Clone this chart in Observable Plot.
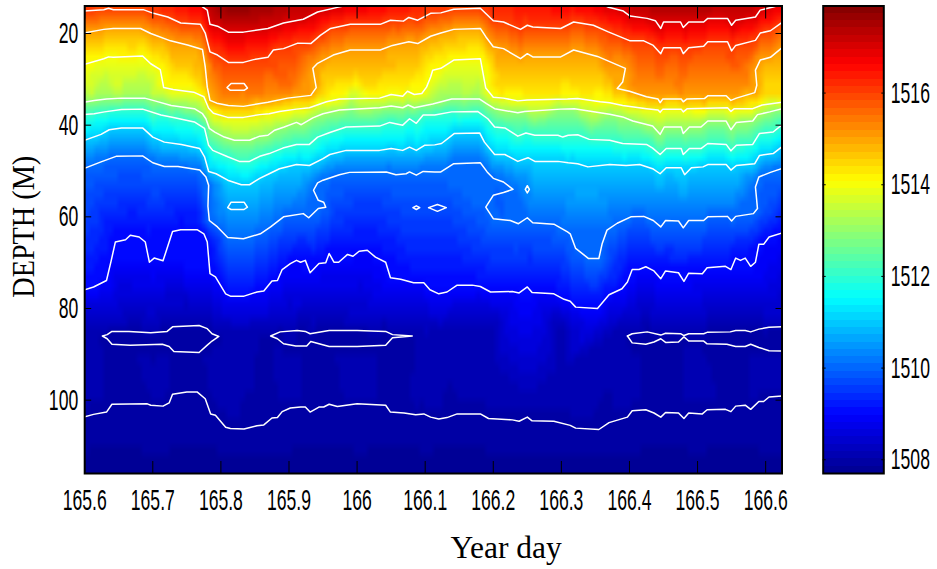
<!DOCTYPE html>
<html><head><meta charset="utf-8">
<script src="https://cdn.jsdelivr.net/npm/d3@7"></script>
<script src="https://cdn.jsdelivr.net/npm/@observablehq/plot@0.6"></script>
<style>
html,body{margin:0;padding:0;background:#fff}
#wrap{position:relative;width:937px;height:569px;overflow:hidden}
#wrap svg{position:absolute;left:0;top:0}
</style></head><body><div id="wrap"></div>
<script>
// Tick labels
const xTicks=[165.6,165.7,165.8,165.9,166,166.1,166.2,166.3,166.4,166.5,166.6];
const yTicks=[20,40,60,80,100];
const barTicks=[1508,1510,1512,1514,1516];
// Contours: [year day, depth]
const c1517a=[[165.773,14.2],[165.780,14.9],[165.784,18],[165.795,18.4],[165.811,19.7],[165.833,19.7],[165.869,18.9],[165.892,17.7],[165.921,16.9],[165.942,15.3],[165.971,14.3],[165.980,14],[165.990,13.6]];
const c1517b=[[166.357,13.6],[166.368,14.2],[166.391,15.1],[166.401,16.2],[166.426,16.7],[166.438,17.2],[166.446,18.9],[166.450,17.5],[166.475,17.5],[166.479,18.7],[166.487,17.5],[166.509,17.5],[166.515,16.7],[166.544,16.7],[166.550,18.2],[166.556,17.1],[166.585,16.4],[166.592,14.9],[166.603,14.5],[166.611,14.2],[166.625,13.6]];
const c1516=[[165.598,15.1],[165.628,14.8],[165.635,14.5],[165.642,14.8],[165.686,14.8],[165.701,15.6],[165.722,16.4],[165.741,17.7],[165.770,18],[165.777,19.9],[165.784,24],[165.795,24.7],[165.811,26.3],[165.833,26.3],[165.848,25.7],[165.869,25.2],[165.877,23.6],[165.892,23.3],[165.913,22.1],[165.932,22.2],[165.946,20.4],[165.961,18.9],[165.990,18],[166.034,18],[166.049,17.1],[166.068,17.3],[166.076,16.5],[166.089,17.1],[166.108,15.6],[166.123,15.5],[166.142,14.7],[166.181,14.5],[166.200,17.2],[166.215,17.5],[166.240,19.1],[166.250,18.2],[166.258,18.6],[166.299,18.9],[166.318,17.5],[166.347,18.2],[166.368,19.6],[166.401,21.6],[166.421,21.6],[166.435,22.6],[166.446,24.4],[166.450,23.1],[166.475,23.1],[166.479,24.4],[166.487,23.1],[166.509,22.8],[166.515,21.8],[166.544,21.8],[166.550,23.8],[166.556,22.6],[166.585,21.5],[166.592,19.9],[166.607,19.4],[166.625,17.5]];
const c1515=[[165.598,19.9],[165.628,19.1],[165.642,18.9],[165.682,18.9],[165.697,20],[165.726,21.6],[165.751,22.5],[165.773,23.5],[165.777,27.3],[165.780,31.7],[165.784,34.6],[165.794,35.2],[165.811,35.7],[165.833,35.9],[165.869,35],[165.898,34.1],[165.932,33.5],[165.940,31.8],[165.935,27.6],[165.942,26.5],[165.965,24.7],[165.990,23.6],[166.034,23.6],[166.052,22.6],[166.076,21.8],[166.089,22.2],[166.108,20.6],[166.123,19.9],[166.142,19.1],[166.181,18.9],[166.189,20.7],[166.200,22.9],[166.215,23.3],[166.240,25.5],[166.250,24.4],[166.258,25.1],[166.299,25.1],[166.318,23.6],[166.353,25],[166.394,27.6],[166.390,30.6],[166.382,32],[166.400,32.6],[166.425,33.8],[166.442,34.3],[166.445,35.1],[166.449,34.3],[166.476,34.3],[166.479,34.9],[166.484,34.3],[166.510,34.2],[166.515,33.6],[166.542,33.6],[166.549,34.6],[166.557,34.1],[166.584,32.9],[166.587,31.3],[166.585,28],[166.592,25.8],[166.607,25.2],[166.625,23]];
const c1514=[[165.598,26.8],[165.628,25.5],[165.635,25.1],[165.642,25.2],[165.685,24.9],[165.697,26.6],[165.711,27.9],[165.716,31.8],[165.730,32.2],[165.760,32.8],[165.775,33.8],[165.782,36.3],[165.789,37.4],[165.810,38.3],[165.833,38.3],[165.857,37.7],[165.871,37.5],[165.886,37],[165.911,36.5],[165.930,36.2],[165.955,34.9],[165.974,34.3],[166.033,34.1],[166.050,33.3],[166.067,33.7],[166.074,32.6],[166.084,33.3],[166.095,33.1],[166.102,31.7],[166.108,29.5],[166.111,28],[166.123,27.6],[166.142,25.8],[166.181,25.5],[166.189,31.9],[166.200,33.9],[166.215,34.1],[166.236,34.7],[166.250,34.5],[166.309,34.3],[166.324,34.2],[166.357,34.9],[166.371,35.1],[166.390,35.7],[166.425,36.4],[166.442,36.7],[166.445,37.2],[166.449,36.5],[166.476,36.5],[166.479,37.1],[166.485,36.4],[166.544,36.2],[166.549,37],[166.554,36.4],[166.581,36.4],[166.595,35.6],[166.625,35]];
const c1513=[[165.598,35],[165.614,34.6],[165.632,34.3],[165.654,34.1],[165.688,34.1],[165.703,34.7],[165.727,35.7],[165.761,36.4],[165.773,37.5],[165.778,38.6],[165.783,40.7],[165.791,41.5],[165.805,42.6],[165.820,43.3],[165.842,43.3],[165.857,42.4],[165.869,42.2],[165.879,41.1],[165.893,40.4],[165.911,39.4],[165.918,39.9],[165.935,38.4],[165.950,37.5],[165.974,36.7],[166.033,36.2],[166.050,35.8],[166.067,36.2],[166.075,35.6],[166.084,36.2],[166.111,35.4],[166.139,34.3],[166.180,34.3],[166.190,35.3],[166.202,36.4],[166.236,37.3],[166.246,37],[166.299,36.5],[166.319,36.4],[166.371,37.6],[166.390,38.2],[166.405,39.1],[166.434,40.2],[166.445,42],[166.451,40.4],[166.476,40.4],[166.479,41.8],[166.488,40.4],[166.505,40.4],[166.515,39.1],[166.542,39.1],[166.549,41],[166.557,39.4],[166.581,39.1],[166.588,37.7],[166.606,37.1],[166.625,36.4]];
const c1512=[[165.598,37.7],[165.614,37.5],[165.629,37.1],[165.654,36.6],[165.685,36.5],[165.712,37.8],[165.732,38.4],[165.761,39.3],[165.776,40.7],[165.782,44.4],[165.788,45.5],[165.810,46.9],[165.827,47.9],[165.842,47.9],[165.857,46.8],[165.871,46.2],[165.891,45],[165.911,44.2],[165.930,44.2],[165.942,42.6],[165.960,41.6],[165.984,40.4],[166.033,40.2],[166.048,39.4],[166.067,40],[166.077,38.6],[166.087,39.6],[166.097,37.8],[166.114,37.8],[166.139,37.1],[166.177,37],[166.192,38.6],[166.202,40.4],[166.217,40.6],[166.236,42.4],[166.248,41.7],[166.261,42.2],[166.295,42.2],[166.302,42.6],[166.310,42.2],[166.324,42.1],[166.341,43.1],[166.371,43.3],[166.390,44],[166.425,44.2],[166.434,45],[166.445,46.4],[166.454,45.1],[166.476,45.1],[166.479,46.4],[166.488,45.1],[166.505,45.1],[166.515,44],[166.542,44.2],[166.549,45.6],[166.557,44.4],[166.581,44.2],[166.591,41.8],[166.611,41.5],[166.625,39.8]];
const c1511=[[165.598,43.4],[165.624,42],[165.636,41],[165.654,40.6],[165.685,40.6],[165.700,42.6],[165.717,43.7],[165.742,44.2],[165.769,45.1],[165.776,46.9],[165.782,50.1],[165.793,50.6],[165.810,52],[165.830,53],[165.842,53],[165.857,51.6],[165.871,50.6],[165.886,49.5],[165.911,48.6],[165.930,48.8],[165.950,47.3],[165.960,46.4],[165.984,45.5],[166.033,45.5],[166.050,45.1],[166.067,45.5],[166.077,44.8],[166.087,45.5],[166.099,44.4],[166.114,44.3],[166.124,44],[166.143,41.8],[166.180,41.7],[166.187,43.7],[166.202,46.4],[166.217,46.4],[166.236,47.9],[166.251,47.1],[166.261,47.9],[166.295,47.9],[166.310,48.2],[166.324,48.4],[166.339,49.1],[166.371,48.6],[166.395,48.8],[166.415,48.6],[166.434,49.5],[166.445,50.6],[166.454,49.3],[166.476,49.3],[166.481,50.8],[166.491,49.3],[166.508,49.1],[166.515,48.6],[166.542,48.6],[166.549,49.8],[166.557,48.8],[166.584,48.4],[166.591,46.6],[166.611,46.2],[166.625,44.6]];
const c1510=[[165.598,49.5],[165.624,48],[165.646,46.8],[165.685,46.7],[165.700,48.2],[165.717,49],[165.737,49],[165.769,49.8],[165.778,51.3],[165.782,53.1],[165.781,57.7],[165.783,60.8],[165.795,62.2],[165.810,64.5],[165.833,64.8],[165.858,63.7],[165.873,62.2],[165.892,60],[165.921,59.3],[165.929,60.2],[165.943,58.2],[165.954,57.9],[165.951,56.8],[165.943,56.4],[165.936,54.2],[165.942,52.6],[165.950,52],[165.974,50.8],[165.989,50.3],[166.043,50.2],[166.057,50.8],[166.072,50.6],[166.077,50.2],[166.087,50.9],[166.097,50.1],[166.114,50.2],[166.123,50.2],[166.142,48.4],[166.181,48.2],[166.191,50.2],[166.200,51.6],[166.215,52.4],[166.229,54],[166.215,54.7],[166.200,55.3],[166.189,57.9],[166.200,60.4],[166.225,60.8],[166.237,61.5],[166.250,60.2],[166.258,61.3],[166.289,61.6],[166.309,63.3],[166.313,63.7],[166.321,66.9],[166.340,69.1],[166.355,69.1],[166.360,65.8],[166.367,62.9],[166.382,61.4],[166.402,60],[166.421,59.9],[166.435,60.8],[166.446,62.2],[166.453,60.8],[166.472,60.9],[166.479,62.4],[166.487,60.8],[166.509,60.8],[166.515,60],[166.544,59.9],[166.550,60.9],[166.556,59.9],[166.582,59.3],[166.588,58.2],[166.585,53.5],[166.590,51.3],[166.607,50.3],[166.625,49.4]];
const c1509=[[165.598,76],[165.613,75.3],[165.632,73.9],[165.639,69.5],[165.645,65.5],[165.660,65],[165.667,64],[165.680,64.4],[165.689,65.5],[165.695,69.9],[165.702,69],[165.715,69.6],[165.729,63.2],[165.741,62.8],[165.765,62.8],[165.775,63.7],[165.780,65.5],[165.784,72.4],[165.792,73.1],[165.807,76.8],[165.814,77.3],[165.834,77.3],[165.853,76.4],[165.863,76.2],[165.875,74],[165.883,73.9],[165.890,71.5],[165.902,70.2],[165.911,69.5],[165.917,69.9],[165.924,69.5],[165.931,72.2],[165.944,70.2],[165.954,70],[165.959,68],[165.966,69.9],[165.973,69.9],[165.986,68.2],[165.994,68.6],[166.003,67.5],[166.015,67.3],[166.027,68.8],[166.042,69.9],[166.049,73.3],[166.064,73.6],[166.083,74.4],[166.098,74.4],[166.107,75.9],[166.120,76.8],[166.132,76.4],[166.147,74.9],[166.169,74.9],[166.181,75.2],[166.196,76.4],[166.228,76.3],[166.238,76.6],[166.250,75.3],[166.257,76.5],[166.289,76.8],[166.304,78],[166.313,78.4],[166.321,79.7],[166.353,80],[166.370,77],[166.389,75.7],[166.397,74.2],[166.404,71.5],[166.414,71.5],[166.424,70.9],[166.436,71.8],[166.446,73.5],[166.453,71.8],[166.472,72.2],[166.480,74.1],[166.487,72.3],[166.507,72.4],[166.514,71.1],[166.541,70.8],[166.549,71.5],[166.556,69],[166.563,69.5],[166.570,69],[166.578,70.8],[166.585,69.9],[166.590,66],[166.597,66],[166.605,64.4],[166.625,63.5]];
const c1508low=[[165.598,103.7],[165.613,103.1],[165.632,102.6],[165.640,100.9],[165.692,100.8],[165.697,101.1],[165.715,101.3],[165.724,100.6],[165.729,98.7],[165.750,98.2],[165.765,98.2],[165.777,99.7],[165.785,103],[165.792,103.3],[165.807,105.9],[165.814,106.2],[165.834,106.3],[165.853,105.6],[165.863,105.4],[165.875,103.9],[165.883,103.8],[165.890,102.5],[165.902,101.7],[165.917,101.5],[165.924,101.5],[165.931,102.6],[165.944,101.5],[165.951,101.5],[165.959,100.9],[165.971,101.4],[166,100.8],[166.042,101.1],[166.049,102.6],[166.069,102.8],[166.086,103.2],[166.098,103],[166.108,103.7],[166.120,104.1],[166.132,103.8],[166.147,103],[166.181,103],[166.193,104],[166.228,104.3],[166.238,104.6],[166.250,103.7],[166.257,104.5],[166.289,104.6],[166.313,105.5],[166.321,106.1],[166.355,106.4],[166.370,104.9],[166.397,103.7],[166.404,102.3],[166.424,102.1],[166.436,102.8],[166.446,103.7],[166.453,102.7],[166.472,102.8],[166.480,104],[166.487,102.8],[166.507,103],[166.514,102.1],[166.541,102],[166.549,102.5],[166.556,101.3],[166.570,101.1],[166.578,102],[166.590,100.3],[166.597,100.3],[166.605,99.3],[166.625,99.1]];
const loopA=[[165.626,86],[165.633,85.7],[165.640,85],[165.665,85],[165.697,85.3],[165.721,85],[165.729,84],[165.768,83.7],[165.780,84.4],[165.787,85.5],[165.797,86.1],[165.787,87.1],[165.780,88],[165.768,89.6],[165.731,89.4],[165.724,88.3],[165.714,87.8],[165.667,88],[165.640,87.8],[165.633,86.6],[165.626,86]];
const loopB=[[165.873,86],[165.887,85.1],[165.912,84.8],[165.924,85],[165.931,85.5],[165.959,84.8],[166,84.8],[166.042,85],[166.052,85.7],[166.081,86],[166.052,86.4],[166.042,88],[166,88.3],[165.959,88.3],[165.932,87.2],[165.926,88.2],[165.910,88.2],[165.892,87.7],[165.883,86.6],[165.873,86]];
const openUpper=[[166.397,86],[166.404,85.5],[166.426,85.1],[166.446,85.8],[166.453,85.4],[166.475,85.5],[166.480,85.9],[166.487,85.5],[166.509,85.5],[166.514,85.2],[166.548,85.1],[166.556,84.8],[166.570,84.8],[166.578,85.1],[166.590,84.5],[166.605,84.1],[166.625,84]];
const openLower=[[166.397,86],[166.404,87.5],[166.424,87.8],[166.436,87.3],[166.446,86.6],[166.453,87.4],[166.472,87.3],[166.480,86.2],[166.487,87.1],[166.509,87.1],[166.514,87.7],[166.543,87.8],[166.556,88.3],[166.570,88.3],[166.578,87.8],[166.590,88.5],[166.605,89.2],[166.625,89.3]];
// Small closed contours
const bubble1=[[165.809,31.8],[165.815,30.9],[165.834,30.9],[165.839,31.9],[165.834,32.4],[165.814,32.4],[165.809,31.8]];
const bubble2=[[165.810,58],[165.815,56.8],[165.834,56.8],[165.839,57.9],[165.834,58.4],[165.815,58.4],[165.810,58]];
const bubble3=[[166.082,58],[166.087,57.6],[166.092,58],[166.087,58.4],[166.082,58]];
const bubble4=[[166.105,58],[166.118,57.3],[166.131,58],[166.118,58.8],[166.105,58]];
const bubble5=[[166.247,54],[166.250,53.2],[166.253,54],[166.250,54.8],[166.247,54]];
// Field values between the contours: [year day, depth, value]
const topEdge=[[165.598,13.5,1516.1],[165.697,13.5,1516.3],[165.770,13.5,1516.8],[165.780,13.5,1517.2],[165.797,13.5,1517.7],[165.822,13.5,1517.9],[165.858,13.5,1517.7],[165.917,13.5,1517.3],[165.976,13.5,1517],[166.064,13.5,1516.6],[166.181,13.5,1516.2],[166.240,13.5,1516.5],[166.313,13.5,1516.7],[166.357,13.5,1517],[166.416,13.5,1517.4],[166.475,13.5,1517.6],[166.563,13.5,1517.4],[166.607,13.5,1517.1],[166.625,13.5,1517]];
const mixedLayer=[[165.61,33,1513.5],[165.65,33,1513.5],[165.70,33,1513.5],[165.62,29,1513.65],[165.66,29,1513.65],[165.70,29,1513.65],[166.13,29,1513.7],[166.16,29,1513.6],[166.18,29,1513.6],[166.16,33,1513.4],[166.21,32.5,1514.4],[166.25,32.5,1514.4],[166.29,32.5,1514.4],[166.33,32.5,1514.4],[166.21,29,1514.7],[166.25,29,1514.7],[166.29,29,1514.7],[166.33,29,1514.7],[166.37,30,1514.8],[166.41,32.5,1515.3],[166.47,32.5,1515.3],[166.52,32.5,1515.3],[166.57,31,1515.3],[166.41,26,1515.6],[166.47,26,1515.6],[166.52,26,1515.6],[166.57,26,1515.6],[165.81,33,1515.5],[165.85,33,1515.5],[165.90,32,1515.5],[166.60,33,1514.4],[166.625,33,1514.4],[166.60,29,1514.6],[166.625,29,1514.6],[165.96,32.5,1514.3],[166.02,32.5,1514.3],[166.07,31,1514.3],[165.97,28,1514.7],[166.0,28,1514.7],[166.03,28,1514.7],[166.06,27,1514.7],[165.73,28,1514.5],[165.75,28,1514.5]];
const innerPins=[[166.205,56,1509.8],[166.61,58,1509.7],[165.96,58,1509.7],[165.60,86,1508.05],[165.83,86,1508.05],[166.12,86,1508.05],[166.2,86,1508.05],[166.3,86,1508.05],[166.38,86,1508.05],[165.66,86.5,1507.9],[165.70,86.5,1507.9],[165.75,86.5,1507.9],[165.92,86.5,1507.9],[165.96,86.5,1507.9],[166,86.5,1507.9],[166.04,86.5,1507.9],[166.43,86.5,1507.9],[166.52,86.5,1507.9],[166.6,86.5,1507.9]];
const guideDays=[165.598,165.7,165.8,165.9,166,166.1,166.2,166.3,166.4,166.5,166.6,166.625];
const guideRows=[[83,1508.25],[94,1508.08],[110,1507.9],[116.5,1507.75]];
const leveled=[[1517,c1517a],[1517,c1517b],[1516,c1516],[1515,c1515],[1514,c1514],[1513,c1513],[1512,c1512],[1511,c1511],[1510,c1510],[1509,c1509],[1508,c1508low],[1508,loopA],[1508,loopB],[1508,openUpper],[1508,openLower]];
const bubbles=[bubble1,bubble2,bubble3,bubble4,bubble5];

const field=[];
for(const [v,arr] of leveled) for(const [d,z] of arr) field.push({day:d,depth:z,v});
for(const [d,z,v] of [...topEdge,...mixedLayer,...innerPins]) field.push({day:d,depth:z,v});
for(const [z,v] of guideRows) for(const d of guideDays) field.push({day:d,depth:z,v});

// Jet colormap, 64 steps
const cMin=1507.7,cMax=1517.9,nBands=64;
const jet=d3.scaleLinear().domain([0,1/8,3/8,5/8,7/8,1]).range(["#00008f","#0000ff","#00ffff","#ffff00","#ff0000","#800000"]);
const palette=d3.range(nBands).map(i=>d3.rgb(jet((i+.5)/nBands)).formatHex());
const thresholds=d3.range(1,nBands).map(i=>cMin+(cMax-cMin)*i/nBands);
const bands=d3.range(nBands).map(i=>({lo:cMin+(cMax-cMin)*i/nBands,hi:cMin+(cMax-cMin)*(i+1)/nBands,mid:cMin+(cMax-cMin)*(i+.5)/nBands}));
const colorOpts={type:"threshold",domain:thresholds,range:palette};

const sans="Liberation Sans",serif="Liberation Serif";
const tickFont=17.6,tickStretch=1.7;
const main=Plot.plot({
  width:937,height:569,marginLeft:84.2,marginRight:155.5,marginTop:5.5,marginBottom:96,
  style:{background:"transparent"},
  x:{domain:[165.6,166.624]},y:{domain:[14,116],reverse:true},color:colorOpts,
  marks:[
    Plot.raster(field,{x:"day",y:"depth",fill:"v",interpolate:"barycentric",width:148,height:51,imageRendering:"auto"}),
    ...[...leveled.map(l=>l[1]),...bubbles].map(a=>Plot.line(a,{x:d=>d[0],y:d=>d[1],stroke:"white",strokeWidth:1.5,clip:true})),
    Plot.frame({stroke:"black",strokeWidth:2}),
    Plot.axisX({ticks:xTicks,anchor:"bottom",tickSize:-12,tickPadding:27,tickFormat:d3.format(""),fontSize:tickFont,fontFamily:sans,label:null,color:"black"}),
    Plot.axisX({ticks:xTicks,anchor:"top",tickSize:-12,tickFormat:()=>"",label:null,color:"black"}),
    Plot.axisY({ticks:yTicks,anchor:"left",tickSize:-7,tickPadding:13.5,fontSize:tickFont,fontFamily:sans,label:null,color:"black",tickFormat:d3.format("")}),
    Plot.axisY({ticks:yTicks,anchor:"right",tickSize:-7,tickFormat:()=>"",label:null,color:"black"}),
    Plot.text(["Year day"],{frameAnchor:"bottom",dx:72.8,dy:84,lineAnchor:"bottom",fontFamily:serif,fontSize:31.5,fill:"black"}),
    Plot.text(["DEPTH (M)"],{frameAnchor:"left",dx:-51,dy:-13,rotate:-90,textAnchor:"middle",lineAnchor:"bottom",fontFamily:serif,fontSize:32,fill:"black"})
  ]
});
const bar=Plot.plot({
  width:937,height:569,marginLeft:822.7,marginRight:53.7,marginTop:5.5,marginBottom:96,
  style:{background:"transparent"},
  x:{domain:[0,1],axis:null},y:{domain:[cMin,cMax]},color:colorOpts,
  marks:[
    Plot.rect(bands,{x1:()=>0,x2:()=>1,y1:"lo",y2:"hi",fill:"mid",shapeRendering:"crispEdges"}),
    Plot.frame({stroke:"black",strokeWidth:2}),
    Plot.axisY({ticks:barTicks,anchor:"right",tickSize:-3,tickPadding:10,fontSize:tickFont,fontFamily:sans,label:null,color:"black",tickFormat:d3.format("")}),
    Plot.axisY({ticks:barTicks,anchor:"left",tickSize:-3,tickFormat:()=>"",label:null,color:"black"})
  ]
});
const wrap=document.getElementById("wrap");
wrap.append(main,bar);
// The reference's tick labels are stretched vertically
for(const svg of [main,bar]) for(const t of svg.querySelectorAll('g[aria-label="x-axis tick label"] text, g[aria-label="y-axis tick label"] text')){
  if(!t.textContent) continue;
  t.setAttribute("transform",(t.getAttribute("transform")||"")+` scale(1,${tickStretch})`);
}
for(const t of main.querySelectorAll("text")) if(t.textContent==="DEPTH (M)"){
  t.setAttribute("textLength",142); t.setAttribute("lengthAdjust","spacingAndGlyphs");
}
</script></body></html>
